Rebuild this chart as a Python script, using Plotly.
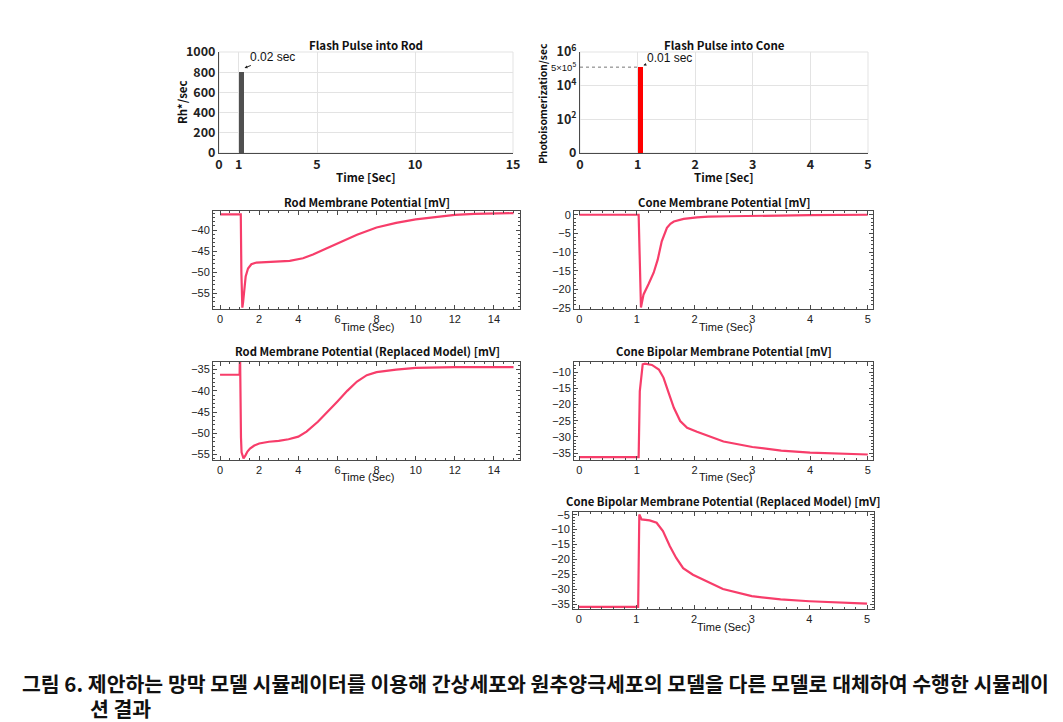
import plotly.graph_objects as go

W, H = 1063, 722
PAGE_OFFSET = 8  # the browser's default body margin shifts the figure by this much

# ---- data ------------------------------------------------------------------
rod_flash_time = [1]
rod_flash_rate = [800]          # Rh*/sec
cone_flash_time = [1]
cone_flash_level = [5.1]        # height on the decade axis (labelled 5x10^5)

rod_t = [0, 1.0, 1.06, 1.09, 1.14, 1.18, 1.23, 1.31, 1.43, 1.6, 1.86, 2.54, 3.56,
         4.24, 4.75, 5.43, 6, 6.6, 7, 8, 9, 10, 11, 12, 13, 14, 15]
rod_v = [-36.3, -36.3, -36.3, -50, -58.4, -57, -54.6, -51.0, -49.1, -48.1, -47.7,
         -47.5, -47.3, -46.7, -45.8, -44.4, -43.2, -41.9, -41.1, -39.4, -38.3,
         -37.5, -36.9, -36.4, -36.2, -36.1, -36.0]

cone_t = [0, 1.0, 1.03, 1.07, 1.115, 1.2, 1.29, 1.36, 1.43, 1.52, 1.58, 1.64, 1.72,
          1.81, 2.04, 2.24, 2.6, 3, 4, 5]
cone_v = [0, 0, 0, -24.8, -21.3, -18.6, -15.5, -12.0, -7.1, -3.5, -2.4, -1.8, -1.4,
          -1.1, -0.7, -0.5, -0.4, -0.3, -0.1, 0]

rod_rep_t = [0, 1.0, 1.02, 1.04, 1.07, 1.1, 1.15, 1.2, 1.3, 1.4, 1.53, 1.75, 2,
             2.5, 3, 3.5, 4, 4.42, 5, 5.5, 6, 6.5, 7, 7.5, 8, 9, 10, 12, 15]
rod_rep_v = [-36.2, -36.2, -30, -42, -51, -54.5, -55.6, -55.9, -55.2, -54.3,
             -53.6, -52.9, -52.4, -52.0, -51.8, -51.4, -50.8, -49.6, -47.3, -45.0,
             -42.5, -40.0, -37.8, -36.3, -35.6, -35.0, -34.6, -34.4, -34.4]

bip_t = [0, 1.0, 1.03, 1.05, 1.1, 1.14, 1.26, 1.38, 1.46, 1.55, 1.64, 1.75, 1.87,
         2.04, 2.24, 2.5, 3, 3.5, 4, 4.5, 5]
bip_v = [-36.2, -36.2, -36.2, -15.9, -7.6, -7.4, -7.8, -9.2, -11.7, -16.4, -21.0,
         -25.1, -27.2, -28.4, -29.8, -31.4, -33.1, -34.2, -34.8, -35.2, -35.4]

bip_rep_t = [0, 1.0, 1.03, 1.05, 1.09, 1.23, 1.35, 1.46, 1.58, 1.69, 1.81, 1.98,
             2.24, 2.5, 3, 3.5, 4, 4.5, 5]
bip_rep_v = [-35.9, -35.9, -35.9, -4.9, -6.6, -6.9, -7.7, -10.5, -15.6, -19.5,
             -22.9, -25.1, -27.6, -29.9, -32.3, -33.4, -34.0, -34.3, -34.8]

# ---- styling ----------------------------------------------------------------
LINE_RED = "#f73d6a"
BOLD_FONT = "Noto Sans CJK KR"
TICK_FONT = "Liberation Sans, Arial, sans-serif"
FRAME = "#4a4a4a"
GRID = "#e3e3e3"


def dom_x(x0, x1):
    return [(x0 - PAGE_OFFSET) / W, (x1 - PAGE_OFFSET) / W]


def dom_y(y0, y1):
    return [1 - (y1 - PAGE_OFFSET) / H, 1 - (y0 - PAGE_OFFSET) / H]


def membrane_axes(xd, yd, xrng, yrng, xdtick, xminor, n):
    common = {
        "showline": True, "linecolor": FRAME, "linewidth": 1, "mirror": "allticks",
        "ticks": "inside", "ticklen": 4, "tickcolor": FRAME, "showgrid": False,
        "zeroline": False, "automargin": False,
        "tickfont": {"family": TICK_FONT, "size": 11, "color": "#222"},
    }
    sx = str(n)
    xa = dict(common, domain=dom_x(*xd), range=xrng, dtick=xdtick, tick0=0,
              anchor="y" + sx,
              minor={"ticks": "inside", "ticklen": 2, "dtick": xminor, "tickcolor": FRAME})
    ya = dict(common, domain=dom_y(*yd), range=yrng, dtick=5, tick0=0,
              anchor="x" + sx,
              minor={"ticks": "inside", "ticklen": 2, "dtick": 1, "tickcolor": FRAME})
    return {"xaxis" + sx: xa, "yaxis" + sx: ya}


fig = go.Figure()

# flash pulses
fig.add_trace(go.Bar(x=rod_flash_time, y=rod_flash_rate, width=[0.3], offset=0,
                     marker={"color": "#505050", "line": {"width": 0}},
                     xaxis="x", yaxis="y", showlegend=False))
fig.add_trace(go.Bar(x=cone_flash_time, y=cone_flash_level, width=[0.1], offset=0,
                     marker={"color": "#ff0000", "line": {"width": 0}},
                     xaxis="x2", yaxis="y2", showlegend=False))
fig.add_trace(go.Scatter(x=[0, cone_flash_time[0]], y=[cone_flash_level[0]] * 2,
                         mode="lines", line={"color": "#777", "width": 1, "dash": "dot"},
                         xaxis="x2", yaxis="y2", showlegend=False))

# membrane potentials
for t, v, n in [(rod_t, rod_v, 3), (cone_t, cone_v, 4), (rod_rep_t, rod_rep_v, 5),
                (bip_t, bip_v, 6), (bip_rep_t, bip_rep_v, 7)]:
    fig.add_trace(go.Scatter(x=t, y=v, mode="lines",
                             line={"color": LINE_RED, "width": 2.2},
                             xaxis=f"x{n}", yaxis=f"y{n}", showlegend=False))

flash_tick = {"family": BOLD_FONT, "size": 12.5, "color": "#222", "weight": "bold"}
flash_common = {"showgrid": True, "gridcolor": GRID, "showline": True, "linecolor": FRAME,
                "zeroline": False, "tickfont": flash_tick, "ticks": "", "automargin": False}
layout = {
    "xaxis": dict(flash_common, domain=dom_x(219, 513), range=[0, 15],
                  tickvals=[0, 1, 5, 10, 15], anchor="y"),
    "yaxis": dict(flash_common, domain=dom_y(52, 153), range=[0, 1000], dtick=200,
                  anchor="x"),
    "xaxis2": dict(flash_common, domain=dom_x(580, 868), range=[0, 5], dtick=1,
                   anchor="y2"),
    "yaxis2": dict(flash_common, domain=dom_y(52, 153), range=[0, 6],
                   tickvals=[0, 2, 4, 6],
                   ticktext=["0", "10<sup>2</sup>", "10<sup>4</sup>", "10<sup>6</sup>"],
                   anchor="x2"),
}
layout.update(membrane_axes((213, 520), (211, 309), [-0.36, 15.33], [-58.7, -35.5], 2, 0.5, 3))
layout.update(membrane_axes((574, 873), (211, 309), [-0.09, 5.09], [-25.2, 1.0], 1, 0.2, 4))
layout.update(membrane_axes((213, 520), (362, 460), [-0.36, 15.33], [-56.3, -33.2], 2, 0.5, 5))
layout.update(membrane_axes((574, 873), (362, 460), [-0.09, 5.09], [-37.1, -6.9], 1, 0.2, 6))
layout.update(membrane_axes((573, 874), (512, 609), [-0.1, 5.12], [-36.6, -4.1], 1, 0.2, 7))

annotations = []


def paper_text(text, xc, yc, size, bold=True, family=BOLD_FONT, xanchor="center", angle=0):
    annotations.append({
        "text": text, "xref": "paper", "yref": "paper",
        "x": (xc - PAGE_OFFSET) / W, "y": 1 - (yc - PAGE_OFFSET) / H,
        "xanchor": xanchor, "yanchor": "middle", "showarrow": False, "textangle": angle,
        "font": {"family": family, "size": size, "color": "#111",
                 "weight": "bold" if bold else "normal"},
    })


# panel titles
paper_text("Flash Pulse into Rod", 366, 45, 11.5)
paper_text("Flash Pulse into Cone", 724, 45, 11.5)
paper_text("Rod Membrane Potential [mV]", 367, 202, 11.3)
paper_text("Cone Membrane Potential [mV]", 724, 202, 11.3)
paper_text("Rod Membrane Potential (Replaced Model) [mV]", 367, 351, 11.3)
paper_text("Cone Bipolar Membrane Potential [mV]", 724, 351, 11.3)
paper_text("Cone Bipolar Membrane Potential (Replaced Model) [mV]", 723, 501, 11.3)

# flash axis titles
paper_text("Time [Sec]", 366, 177, 11.5)
paper_text("Time [Sec]", 724, 177, 11.5)
paper_text("Rh*/sec", 182, 102, 11.5, angle=-90)
paper_text("Photoisomerization/sec", 542, 104, 10.3, angle=-90)

# membrane x-axis titles
for xc, yc in [(367, 327), (725, 327), (367, 477), (725, 477), (723, 627)]:
    paper_text("Time (Sec)", xc, yc, 11, bold=False, family=TICK_FONT)

# pulse-width annotations
annotations.append({
    "text": "0.02 sec", "x": 1.3, "y": 842, "xref": "x", "yref": "y",
    "ax": 28, "ay": -11, "showarrow": True, "arrowhead": 2, "arrowsize": 0.6,
    "arrowwidth": 1, "arrowcolor": "#222",
    "font": {"family": TICK_FONT, "size": 12, "color": "#111"},
})
annotations.append({
    "text": "0.01 sec", "x": 1.1, "y": cone_flash_level[0] + 0.12,
    "xref": "x2", "yref": "y2",
    "ax": 26, "ay": -7, "showarrow": True, "arrowhead": 2, "arrowsize": 0.6,
    "arrowwidth": 1, "arrowcolor": "#222",
    "font": {"family": TICK_FONT, "size": 12, "color": "#111"},
})
annotations.append({
    "text": "5×10<sup>5</sup>", "x": (578 - PAGE_OFFSET) / W, "y": cone_flash_level[0],
    "xref": "paper", "yref": "y2", "xanchor": "right", "yanchor": "middle",
    "showarrow": False, "font": {"family": TICK_FONT, "size": 9.5, "color": "#111"},
})

# caption
paper_text("그림 6. 제안하는 망막 모델 시뮬레이터를 이용해 간상세포와 원추양극세포의 "
           "모델을 다른 모델로 대체하여 수행한 시뮬레이", 20, 683, 20.5, xanchor="left")
paper_text("션 결과", 88, 708, 20.5, xanchor="left")

# light frame on the flash panels (top / right edges)
shapes = [
    {"type": "rect", "xref": "x domain", "yref": "y domain", "x0": 0, "x1": 1, "y0": 0, "y1": 1,
     "line": {"color": GRID, "width": 1}, "layer": "below"},
    {"type": "rect", "xref": "x2 domain", "yref": "y2 domain", "x0": 0, "x1": 1, "y0": 0, "y1": 1,
     "line": {"color": GRID, "width": 1}, "layer": "below"},
]

fig.update_layout(
    layout,
    width=W, height=H,
    margin={"l": 0, "r": 0, "t": 0, "b": 0, "autoexpand": False},
    paper_bgcolor="white", plot_bgcolor="white",
    annotations=annotations, shapes=shapes,
    bargap=0,
)

fig.write_html("out.html")
